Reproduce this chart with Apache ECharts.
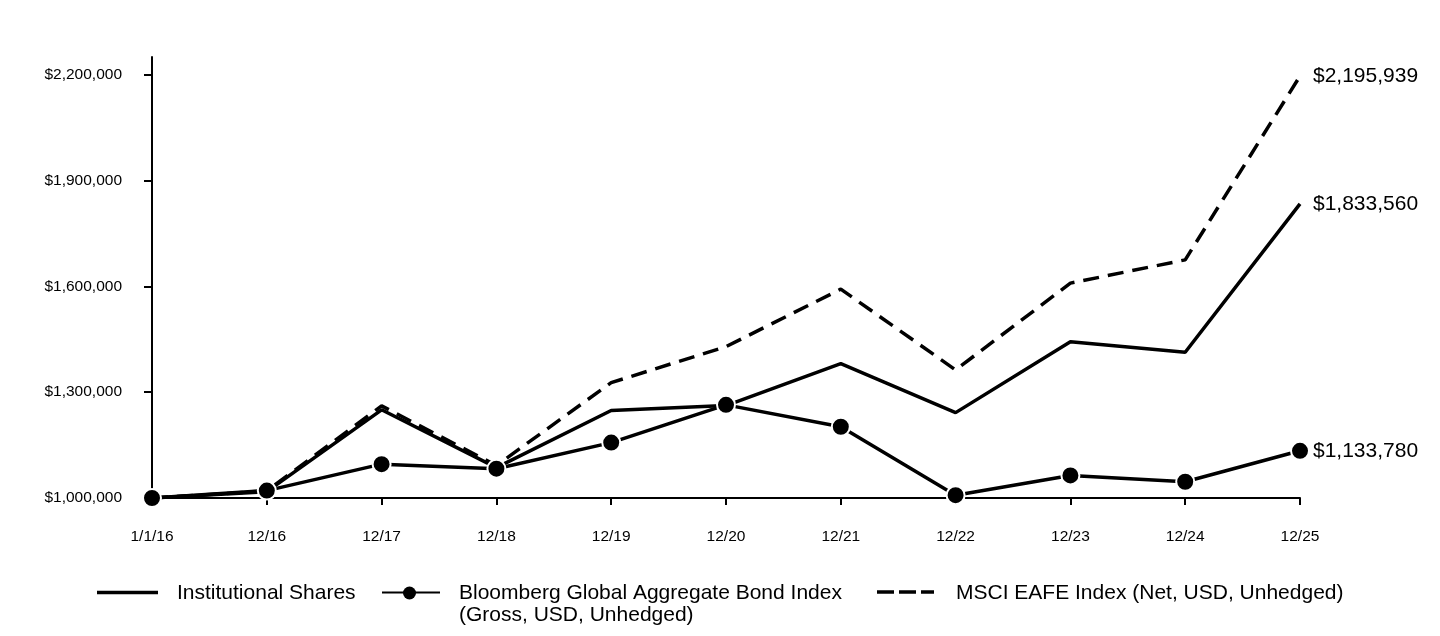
<!DOCTYPE html>
<html>
<head>
<meta charset="utf-8">
<script src="https://cdn.jsdelivr.net/npm/echarts@6/dist/echarts.min.js"></script>
<style>html,body{margin:0;padding:0;background:#fff}#c{width:1440px;height:636px}</style>
</head>
<body>
<div id="c"></div>
<script>
const categories = ['1/1/16','12/16','12/17','12/18','12/19','12/20','12/21','12/22','12/23','12/24','12/25'];
const institutional = [1000000,1018000,1250000,1086000,1248000,1262000,1381000,1242000,1443000,1413000,1833560];
const bloomberg = [1000000,1021000,1096000,1083000,1157000,1264000,1202000,1008000,1064000,1046000,1133780];
const msci = [1000000,1020000,1261000,1092000,1327000,1429000,1592000,1363000,1609000,1675000,2195939];
const yTicks = [1000000,1300000,1600000,1900000,2200000];
const seriesNames = ['Institutional Shares','Bloomberg Global Aggregate Bond Index\n(Gross, USD, Unhedged)','MSCI EAFE Index (Net, USD, Unhedged)'];

const FONT = '"Liberation Sans", Arial, sans-serif';
const money = v => '$' + Math.round(v).toLocaleString('en-US');
const endLabel = {show:true, formatter:p => money(p.value), color:'#000', fontFamily:FONT, fontSize:21, distance:13};
const legendText = {fill:'#000', fontFamily:FONT, fontSize:21, lineHeight:22};

const chart = echarts.init(document.getElementById('c'));
chart.setOption({
  animation:false,
  grid:{left:152, right:140, top:57, bottom:138},
  xAxis:{
    type:'category', data:categories, boundaryGap:false,
    axisLine:{lineStyle:{color:'#000', width:2}},
    axisTick:{show:true, length:7, lineStyle:{color:'#000', width:2}},
    axisLabel:{color:'#000', fontFamily:FONT, fontSize:15.5, margin:31}
  },
  yAxis:{
    type:'value', min:1000000, max:2250000,
    splitLine:{show:false},
    axisLine:{show:true, lineStyle:{color:'#000', width:2}},
    axisTick:{show:true, length:8, customValues:yTicks, lineStyle:{color:'#000', width:2}},
    axisLabel:{color:'#000', fontFamily:FONT, fontSize:15.5, margin:30, customValues:yTicks, formatter:v => money(v)}
  },
  graphic:[
    {type:'line', shape:{x1:97, y1:592.5, x2:158, y2:592.5}, style:{stroke:'#000', lineWidth:3.5}},
    {type:'text', x:177, y:593, style:Object.assign({text:seriesNames[0], verticalAlign:'middle'}, legendText)},
    {type:'line', shape:{x1:382, y1:592.5, x2:440, y2:592.5}, style:{stroke:'#000', lineWidth:2}},
    {type:'circle', shape:{cx:409.5, cy:593, r:6.5}, style:{fill:'#000'}},
    {type:'text', x:459, y:582, style:Object.assign({text:seriesNames[1], verticalAlign:'top'}, legendText)},
    {type:'line', shape:{x1:877, y1:592, x2:934, y2:592}, style:{stroke:'#000', lineWidth:3.5, lineDash:[17,5]}},
    {type:'text', x:956, y:593, style:Object.assign({text:seriesNames[2], verticalAlign:'middle'}, legendText)}
  ],
  series:[
    {name:seriesNames[0], type:'line', data:institutional, symbol:'none', z:2,
     lineStyle:{color:'#000', width:3.5}, itemStyle:{color:'#000'}, endLabel:endLabel},
    {name:seriesNames[2], type:'line', data:msci, symbol:'none', z:3,
     lineStyle:{color:'#000', width:3.5, type:[16,9]}, itemStyle:{color:'#000'}, endLabel:endLabel},
    {name:seriesNames[1], type:'line', data:bloomberg, symbol:'circle', symbolSize:18, showSymbol:true, z:4,
     lineStyle:{color:'#000', width:3.5}, itemStyle:{color:'#000', borderColor:'#fff', borderWidth:2}, endLabel:endLabel}
  ]
});
</script>
</body>
</html>
